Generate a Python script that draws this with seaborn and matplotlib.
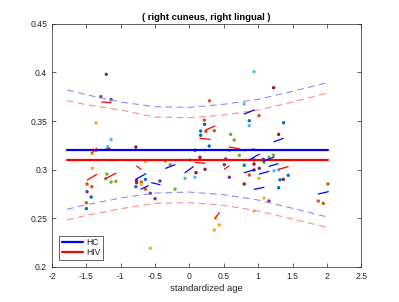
import numpy as np
import pandas as pd
import matplotlib
matplotlib.use("Agg")
import matplotlib.pyplot as plt
import seaborn as sns
from matplotlib.lines import Line2D

# ---------------- data ----------------
title = "( right cuneus, right lingual )"
xlabel = "standardized age"
x_ticks = [-2, -1.5, -1, -0.5, 0, 0.5, 1, 1.5, 2, 2.5]
y_ticks = [0.2, 0.25, 0.3, 0.35, 0.4, 0.45]

group_names = ["HC", "HIV"]
group_level = [0.3205, 0.310]
group_xrange = [-1.78, 2.02]

band_x = [-1.78, -1.5, -1.0, -0.5, 0.0, 0.5, 1.0, 1.5, 2.02]
hc_upper = [0.3819, 0.3770, 0.3695, 0.3647, 0.3641, 0.3672, 0.3723, 0.3805, 0.3897]
hc_lower = [0.2593, 0.2640, 0.2709, 0.2760, 0.2770, 0.2743, 0.2688, 0.2603, 0.2511]
hiv_upper = [0.3709, 0.3668, 0.3613, 0.3541, 0.3534, 0.3562, 0.3613, 0.3695, 0.3791]
hiv_lower = [0.2483, 0.2531, 0.2599, 0.2654, 0.2661, 0.2634, 0.2575, 0.2493, 0.2404]

dot_x = [-1.21, -1.29, -1.14, -1.36, -1.14, -1.19, -0.78, -1.36, -1.42, -1.21,
         -1.17, -1.41, -1.49, -1.42, -1.49, -1.43, -1.50, -1.50, -1.20, -1.22,
         -1.14, -1.07, -0.77, -0.77, -0.78, -0.70, -0.70, -0.64, -0.64, -0.43,
         -0.57, -0.50, -0.21, -0.57, -0.64, -0.35, -0.28, -0.065, 0.008, 0.08,
         0.095, 0.08, 0.153, 0.527, 0.725, 0.58, 0.507, 0.226, 0.58, 0.797,
         0.87, 0.797, 0.94, 0.94, 0.94, 1.016, 1.074, 1.084, 1.157, 1.22,
         1.23, 1.298, 1.011, 1.317, 1.365, 1.437, 1.298, 1.084, 1.157, 0.94,
         0.381, 0.434, 0.361, 2.015, 1.874, 1.947, 0.94, 1.225, 0.291, 0.797,
         1.011, 0.87, 0.87, 1.37, 1.298, 0.60, 0.652, 0.216, 0.221, 0.24,
         0.361, 0.163, 0.163, 0.288]
dot_y = [0.398, 0.375, 0.372, 0.348, 0.331, 0.3236, 0.3233, 0.320, 0.3164, 0.321,
         0.321, 0.3014, 0.2853, 0.2825, 0.2774, 0.2719, 0.266, 0.260, 0.2955, 0.2907,
         0.2873, 0.288, 0.2887, 0.2866, 0.2825, 0.2873, 0.285, 0.290, 0.280, 0.2884,
         0.2757, 0.2702, 0.280, 0.2192, 0.3086, 0.309, 0.3051, 0.2911, 0.310, 0.2922,
         0.2969, 0.320, 0.3127, 0.311, 0.3148, 0.320, 0.3051, 0.3004, 0.2922, 0.2853,
         0.2945, 0.3045, 0.3058, 0.2997, 0.310, 0.3014, 0.3107, 0.3076, 0.3127, 0.315,
         0.299, 0.2997, 0.2911, 0.2896, 0.2901, 0.2942, 0.2815, 0.2709, 0.2678, 0.2575,
         0.250, 0.2432, 0.238, 0.2853, 0.2678, 0.2654, 0.4007, 0.3842, 0.3708, 0.3675,
         0.3555, 0.3503, 0.3452, 0.3483, 0.3363, 0.3363, 0.3305, 0.351, 0.3466, 0.3394,
         0.340, 0.3397, 0.3353, 0.3243]
dot_group = ["P", "P", "P", "Y", "C", "C", "R", "O", "Y", "C",
             "R", "Y", "O", "O", "P", "B", "O", "B", "G", "G",
             "G", "G", "R", "P", "B", "O", "Y", "B", "O", "P",
             "P", "P", "G", "Y", "Y", "G", "G", "C", "C", "C",
             "R", "R", "R", "P", "G", "G", "P", "R", "P", "R",
             "O", "B", "R", "R", "B", "P", "P", "G", "G", "G",
             "C", "C", "Y", "B", "R", "B", "B", "Y", "P", "Y",
             "Y", "Y", "Y", "O", "O", "O", "C", "R", "O", "C",
             "O", "B", "C", "B", "R", "G", "G", "O", "B", "O",
             "O", "B", "B", "B"]

seg_x1 = [-1.277, -1.42, -1.486, -1.22, -0.768, 0.08, 0.507, 1.30, 0.371, 0.236, 0.153, 0.58,
          -0.782, -0.705, -0.55, -0.346, -0.065, 0.797, 0.87, 1.074, 1.016, 1.16, 0.94, 1.874,
          0.797, 1.23, 0.797]
seg_y1 = [0.3695, 0.317, 0.2894, 0.2907, 0.3038, 0.3075, 0.3004, 0.3004, 0.250, 0.3408, 0.3322, 0.3233,
          0.290, 0.280, 0.2866, 0.3014, 0.2969, 0.2970, 0.310, 0.3085, 0.2955, 0.3035, 0.2798, 0.275,
          0.3572, 0.3287, 0.3195]
seg_x2 = [-1.142, -1.35, -1.35, -1.069, -0.705, 0.226, 0.575, 1.437, 0.434, 0.371, 0.299, 0.725,
          -0.637, -0.60, -0.429, -0.211, 0.056, 0.94, 1.016, 1.23, 1.157, 1.29, 1.084, 2.02,
          0.943, 1.365, 0.94]
seg_y2 = [0.3690, 0.322, 0.2952, 0.2965, 0.3004, 0.3066, 0.3038, 0.3031, 0.2558, 0.3449, 0.3312, 0.3215,
          0.2958, 0.2835, 0.2846, 0.3051, 0.3031, 0.2997, 0.316, 0.313, 0.2983, 0.3062, 0.2819, 0.2774,
          0.3613, 0.3322, 0.3212]
seg_group = ["HIV"] * 12 + ["HC"] * 15

# ---------------- style ----------------
dot_palette = {"B": "#0072BD", "O": "#D95319", "Y": "#EDB120", "P": "#7E2F8E",
               "G": "#77AC30", "C": "#4DBEEE", "R": "#A2142F"}
grp_color = {"HC": "#0000FF", "HIV": "#FF0000"}
band_color = {"HC": "#8C8CFF", "HIV": "#FF8C8C"}
axc = "#262626"

sns.set_theme(style="white")
plt.rcParams["font.family"] = ["Liberation Sans", "DejaVu Sans"]

fig = plt.figure(figsize=(3.99, 3.02), dpi=100)
ax = fig.add_axes([0.1303, 0.1159, 0.7752, 0.8056])

# confidence bands
for name, up, lo in [("HC", hc_upper, hc_lower), ("HIV", hiv_upper, hiv_lower)]:
    for arr in (up, lo):
        dfb = pd.DataFrame({"x": band_x, "y": arr})
        sns.lineplot(data=dfb, x="x", y="y", ax=ax, color=band_color[name],
                     linewidth=0.8, linestyle=(0, (6, 4)), estimator=None, sort=True)

# group fit lines
for name, lvl in zip(group_names, group_level):
    dfl = pd.DataFrame({"x": group_xrange, "y": [lvl, lvl]})
    sns.lineplot(data=dfl, x="x", y="y", ax=ax, color=grp_color[name],
                 linewidth=1.6, estimator=None)

# subject segments
seg_rows = []
for i in range(len(seg_x1)):
    seg_rows.append({"seg": i, "x": seg_x1[i], "y": seg_y1[i], "grp": seg_group[i]})
    seg_rows.append({"seg": i, "x": seg_x2[i], "y": seg_y2[i], "grp": seg_group[i]})
dfs = pd.DataFrame(seg_rows)
sns.lineplot(data=dfs, x="x", y="y", hue="grp", units="seg", estimator=None,
             palette=grp_color, linewidth=0.9, ax=ax, legend=False, sort=False)

# dots
dfd = pd.DataFrame({"x": dot_x, "y": dot_y, "c": dot_group})
sns.scatterplot(data=dfd, x="x", y="y", hue="c", palette=dot_palette, s=6,
                linewidth=0, ax=ax, legend=False)

ax.set_xlim(-2, 2.5)
ax.set_ylim(0.2, 0.45)
ax.set_xticks(x_ticks)
ax.set_xticklabels([f"{t:g}" for t in x_ticks])
ax.set_yticks(y_ticks)
ax.set_yticklabels([f"{t:g}" for t in y_ticks])
ax.tick_params(direction="in", length=3, width=0.5, colors=axc, labelsize=6.2,
               top=True, right=True, bottom=True, left=True, pad=3.5)
for sp in ax.spines.values():
    sp.set_color(axc)
    sp.set_linewidth(0.5)
    sp.set_visible(True)
ax.set_xlabel(xlabel, fontsize=6.8, color=axc, labelpad=2)
ax.set_ylabel("")
ax.set_title(title, fontsize=6.8, fontweight="bold", color="black", pad=3)

handles = [Line2D([0], [0], color=grp_color[n], linewidth=1.6) for n in group_names]
leg = ax.legend(handles, group_names, loc="lower left", bbox_to_anchor=(0.0236, 0.0288),
                borderaxespad=0, fancybox=False, edgecolor=axc, framealpha=1,
                fontsize=6.2, handlelength=2.4, handletextpad=0.4, borderpad=0.3,
                labelspacing=0.15)
leg.get_frame().set_linewidth(0.5)

fig.savefig("out.png", dpi=100)
